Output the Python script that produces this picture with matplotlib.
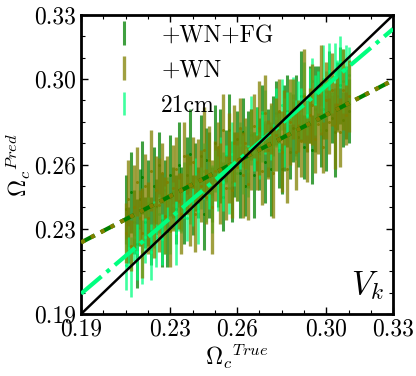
import numpy as np
import matplotlib.pyplot as plt
from matplotlib.ticker import FixedLocator, MultipleLocator

plt.rcParams['font.family'] = ['cmr10', 'DejaVu Serif']
plt.rcParams['mathtext.fontset'] = 'cm'
plt.rcParams['axes.formatter.use_mathtext'] = True

# valores verdaderos (eje x)
x_true = [0.21000, 0.21125, 0.21250, 0.21375, 0.21500, 0.21625, 0.21750, 0.21875, 0.22000, 0.22125,
          0.22250, 0.22375, 0.22500, 0.22625, 0.22750, 0.22875, 0.23000, 0.23125, 0.23250, 0.23375,
          0.23500, 0.23625, 0.23750, 0.23875, 0.24000, 0.24125, 0.24250, 0.24375, 0.24500, 0.24625,
          0.24750, 0.24875, 0.25000, 0.25125, 0.25250, 0.25375, 0.25500, 0.25625, 0.25750, 0.25875,
          0.26000, 0.26125, 0.26250, 0.26375, 0.26500, 0.26625, 0.26750, 0.26875, 0.27000, 0.27125,
          0.27250, 0.27375, 0.27500, 0.27625, 0.27750, 0.27875, 0.28000, 0.28125, 0.28250, 0.28375,
          0.28500, 0.28625, 0.28750, 0.28875, 0.29000, 0.29125, 0.29250, 0.29375, 0.29500, 0.29625,
          0.29750, 0.29875, 0.30000, 0.30125, 0.30250, 0.30375, 0.30500, 0.30625, 0.30750, 0.30875,
          0.31000]

# +WN+FG
pred_fg = [0.239, 0.227, 0.247, 0.233, 0.223, 0.244, 0.254, 0.233, 0.242, 0.229,
           0.250, 0.240, 0.260, 0.234, 0.248, 0.229, 0.255, 0.247, 0.239, 0.260,
           0.244, 0.236, 0.255, 0.265, 0.241, 0.254, 0.247, 0.264, 0.237, 0.262,
           0.255, 0.246, 0.270, 0.254, 0.264, 0.245, 0.264, 0.276, 0.252, 0.260,
           0.272, 0.256, 0.275, 0.250, 0.267, 0.274, 0.255, 0.272, 0.265, 0.284,
           0.261, 0.270, 0.258, 0.278, 0.284, 0.267, 0.258, 0.277, 0.285, 0.266,
           0.277, 0.283, 0.273, 0.292, 0.268, 0.278, 0.288, 0.267, 0.286, 0.293,
           0.276, 0.286, 0.276, 0.298, 0.282, 0.275, 0.292, 0.297, 0.281, 0.289,
           0.285]
err_fg = [0.016, 0.013, 0.019, 0.015, 0.021, 0.014, 0.017, 0.012, 0.020, 0.016,
          0.018, 0.013, 0.015, 0.022, 0.014, 0.017, 0.019, 0.012, 0.016, 0.020,
          0.015, 0.013, 0.018, 0.021, 0.014, 0.016, 0.012, 0.019, 0.017, 0.015,
          0.020, 0.013, 0.018, 0.014, 0.022, 0.016, 0.012, 0.017, 0.019, 0.015,
          0.013, 0.021, 0.016, 0.014, 0.018, 0.012, 0.020, 0.015, 0.017, 0.013,
          0.019, 0.016, 0.022, 0.014, 0.015, 0.018, 0.012, 0.020, 0.017, 0.013,
          0.016, 0.019, 0.014, 0.021, 0.015, 0.012, 0.018, 0.016, 0.020, 0.013,
          0.017, 0.014, 0.019, 0.015, 0.012, 0.021, 0.016, 0.018, 0.013, 0.017,
          0.015]

# +WN
pred_wn = [0.228, 0.244, 0.222, 0.240, 0.252, 0.235, 0.228, 0.250, 0.235, 0.257,
           0.229, 0.248, 0.241, 0.256, 0.236, 0.252, 0.229, 0.249, 0.258, 0.243,
           0.237, 0.264, 0.251, 0.243, 0.261, 0.237, 0.257, 0.250, 0.267, 0.245,
           0.262, 0.240, 0.257, 0.268, 0.251, 0.276, 0.249, 0.263, 0.248, 0.270,
           0.259, 0.277, 0.255, 0.270, 0.251, 0.267, 0.278, 0.261, 0.277, 0.257,
           0.284, 0.267, 0.277, 0.256, 0.274, 0.285, 0.266, 0.282, 0.258, 0.280,
           0.286, 0.266, 0.278, 0.271, 0.292, 0.267, 0.283, 0.288, 0.272, 0.279,
           0.295, 0.268, 0.290, 0.280, 0.295, 0.278, 0.288, 0.275, 0.295, 0.283,
           0.292]
err_wn = [0.014, 0.018, 0.012, 0.020, 0.016, 0.013, 0.021, 0.015, 0.017, 0.019,
          0.013, 0.016, 0.022, 0.014, 0.018, 0.012, 0.017, 0.020, 0.015, 0.013,
          0.019, 0.016, 0.014, 0.021, 0.012, 0.018, 0.015, 0.017, 0.020, 0.013,
          0.016, 0.022, 0.014, 0.012, 0.019, 0.017, 0.015, 0.021, 0.013, 0.018,
          0.016, 0.014, 0.020, 0.012, 0.017, 0.019, 0.015, 0.013, 0.022, 0.016,
          0.018, 0.014, 0.012, 0.021, 0.017, 0.015, 0.019, 0.013, 0.016, 0.020,
          0.014, 0.018, 0.012, 0.017, 0.022, 0.015, 0.013, 0.019, 0.016, 0.014,
          0.021, 0.012, 0.018, 0.015, 0.017, 0.020, 0.013, 0.016, 0.019, 0.014,
          0.017]

# 21cm
pred_21 = [0.213, 0.221, 0.212, 0.226, 0.219, 0.231, 0.219, 0.226, 0.235, 0.219,
           0.232, 0.226, 0.237, 0.225, 0.234, 0.244, 0.231, 0.241, 0.228, 0.241,
           0.238, 0.248, 0.235, 0.246, 0.240, 0.251, 0.238, 0.249, 0.257, 0.244,
           0.251, 0.244, 0.257, 0.251, 0.262, 0.252, 0.260, 0.249, 0.265, 0.260,
           0.256, 0.269, 0.260, 0.268, 0.257, 0.276, 0.266, 0.274, 0.264, 0.273,
           0.280, 0.269, 0.275, 0.268, 0.282, 0.275, 0.288, 0.275, 0.284, 0.281,
           0.290, 0.276, 0.289, 0.284, 0.293, 0.283, 0.292, 0.299, 0.288, 0.294,
           0.287, 0.300, 0.293, 0.304, 0.293, 0.303, 0.299, 0.308, 0.299, 0.305,
           0.302]
err_21 = [0.012, 0.010, 0.014, 0.011, 0.013, 0.009, 0.015, 0.012, 0.010, 0.013,
          0.011, 0.014, 0.009, 0.012, 0.016, 0.010, 0.013, 0.011, 0.015, 0.012,
          0.010, 0.013, 0.011, 0.014, 0.009, 0.012, 0.015, 0.010, 0.013, 0.011,
          0.012, 0.016, 0.010, 0.013, 0.011, 0.014, 0.009, 0.012, 0.015, 0.010,
          0.013, 0.011, 0.014, 0.010, 0.012, 0.016, 0.009, 0.013, 0.011, 0.012,
          0.015, 0.010, 0.013, 0.011, 0.014, 0.009, 0.012, 0.016, 0.010, 0.013,
          0.011, 0.014, 0.010, 0.012, 0.015, 0.009, 0.013, 0.011, 0.014, 0.010,
          0.012, 0.016, 0.011, 0.013, 0.009, 0.014, 0.010, 0.012, 0.015, 0.011,
          0.013]

# rectas de ajuste (extremos)
fit_x = [0.19, 0.33]
fit_fg = [0.2235, 0.2995]
fit_wn = [0.2235, 0.2995]
fit_21 = [0.1995, 0.3235]

ticks = [0.19, 0.23, 0.26, 0.30, 0.33]
tick_labels = ['0.19', '0.23', '0.26', '0.30', '0.33']

# (valores, errores, color, etiqueta, zorder, grosor)
series = [
    (pred_fg, err_fg, 'green', '+WN+FG', 2, 2.2),
    (pred_wn, err_wn, 'olive', '+WN', 4, 2.4),
    (pred_21, err_21, 'springgreen', '21cm', 3, 1.9),
]

fig = plt.figure(figsize=(4.16, 3.76), dpi=100)
ax = fig.add_axes([0.195, 0.165, 0.75, 0.795])

handles = []
for y, e, c, lab, z, w in series:
    h = ax.errorbar(x_true, y, yerr=e, fmt='none', ecolor=c, alpha=0.75,
                    elinewidth=w, label=lab, zorder=z)
    ax.plot(x_true, y, ls='none', marker='o', ms=2.2, color=c, alpha=0.9,
            mec='none', zorder=z)
    handles.append(h)

ax.plot(fit_x, fit_x, color='black', lw=1.8, zorder=6)
ax.plot(fit_x, fit_fg, color='green', lw=3, ls='--', zorder=5)
ax.plot(fit_x, fit_wn, color='olive', lw=3, ls=':', zorder=5)
ax.plot(fit_x, fit_21, color='springgreen', lw=3, ls='-.', zorder=5)

ax.set_xlim(0.19, 0.33)
ax.set_ylim(0.19, 0.33)
ax.xaxis.set_major_locator(FixedLocator(ticks))
ax.yaxis.set_major_locator(FixedLocator(ticks))
ax.set_xticklabels(tick_labels)
ax.set_yticklabels(tick_labels)
ax.xaxis.set_minor_locator(MultipleLocator(0.01))
ax.yaxis.set_minor_locator(MultipleLocator(0.01))
ax.tick_params(which='both', direction='in', top=True, right=True, labelsize=17)
ax.tick_params(which='major', length=5, width=1)
ax.tick_params(which='minor', length=3, width=0.8)
for s in ax.spines.values():
    s.set_linewidth(2)

ax.set_xlabel(r'$\Omega_c{}^{True}$', fontsize=17, labelpad=1)
ax.set_ylabel(r'$\Omega_c{}^{Pred}$', fontsize=17, labelpad=1)
ax.text(0.97, 0.04, r'$V_k$', transform=ax.transAxes, fontsize=24,
        ha='right', va='bottom')

ax.legend(handles=handles, loc='upper left', frameon=False, fontsize=17,
          handlelength=1.0, handletextpad=1.1, labelspacing=0.55,
          bbox_to_anchor=(0.03, 1.04))

fig.savefig('out.png', dpi=100)
